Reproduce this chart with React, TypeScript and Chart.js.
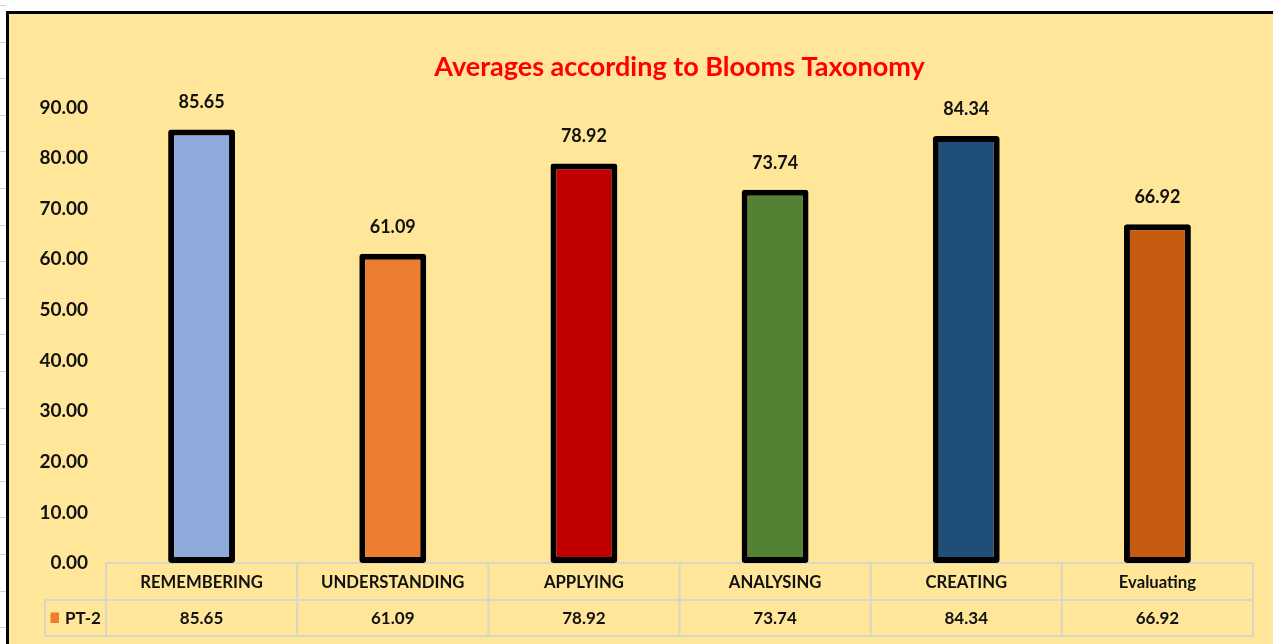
import React, { useEffect, useRef } from "react";
import { Chart, registerables } from "chart.js";

Chart.register(...registerables);

const categories = ["REMEMBERING", "UNDERSTANDING", "APPLYING", "ANALYSING", "CREATING", "Evaluating"];
const seriesName = "PT-2";
const values = [85.65, 61.09, 78.92, 73.74, 84.34, 66.92];
const barColors = ["#8FAADC", "#ED7D31", "#C00000", "#548235", "#1F4E79", "#C55A11"];
const legendColor = "#ED7D31";
const yMin = 0;
const yMax = 90;
const yStep = 10;
const titleText = "Averages according to Blooms Taxonomy";

const FONT = "Lato, 'Open Sans', sans-serif";

const tablePlugin = {
  id: "dataTable",
  beforeDatasetsDraw(chart: any) {
    const { ctx, chartArea } = chart;
    const left = chartArea.left;
    const right = chartArea.right;
    const top = chartArea.bottom;
    const row1 = 37;
    const row2 = 36;
    const legendLeft = 36;
    const n = categories.length;
    const w = (right - left) / n;
    ctx.save();
    ctx.strokeStyle = "#D9D6C8";
    ctx.lineWidth = 2;
    ctx.beginPath();
    ctx.moveTo(left, top);
    ctx.lineTo(right, top);
    ctx.moveTo(legendLeft, top + row1);
    ctx.lineTo(right, top + row1);
    ctx.moveTo(legendLeft, top + row1 + row2);
    ctx.lineTo(right, top + row1 + row2);
    for (let i = 0; i <= n; i++) {
      const x = left + i * w;
      ctx.moveTo(x, top);
      ctx.lineTo(x, top + row1 + row2);
    }
    ctx.moveTo(legendLeft, top + row1);
    ctx.lineTo(legendLeft, top + row1 + row2);
    ctx.stroke();

    ctx.fillStyle = "#111";
    ctx.textAlign = "center";
    ctx.textBaseline = "middle";
    ctx.font = `bold 16.7px ${FONT}`;
    categories.forEach((c, i) => {
      ctx.fillText(c, left + (i + 0.5) * w, top + row1 / 2 + 1);
    });
    ctx.font = `bold 17px ${FONT}`;
    values.forEach((v, i) => {
      ctx.fillText(v.toFixed(2), left + (i + 0.5) * w, top + row1 + row2 / 2 + 1);
    });
    ctx.fillStyle = legendColor;
    ctx.fillRect(legendLeft + 5.5, top + row1 + 12.5, 8.5, 10.5);
    ctx.fillStyle = "#111";
    ctx.textAlign = "left";
    ctx.fillText(seriesName, legendLeft + 20, top + row1 + row2 / 2 + 1);
    ctx.restore();
  },
  afterDatasetsDraw(chart: any) {
    const { ctx } = chart;
    const meta = chart.getDatasetMeta(0);
    ctx.save();
    ctx.fillStyle = "#111";
    ctx.textAlign = "center";
    ctx.textBaseline = "middle";
    ctx.font = `bold 18px ${FONT}`;
    meta.data.forEach((el: any, i: number) => {
      ctx.fillText(values[i].toFixed(2), el.x, el.y - 27);
    });
    ctx.restore();
  },
};

function BarChart() {
  const ref = useRef<HTMLCanvasElement | null>(null);
  useEffect(() => {
    if (!ref.current) return;
    const chart = new Chart(ref.current, {
      type: "bar",
      data: {
        labels: categories,
        datasets: [
          {
            label: seriesName,
            data: values,
            backgroundColor: barColors,
            borderColor: "#000000",
            borderWidth: 6,
            borderRadius: 3,
            borderSkipped: false,
            barPercentage: 0.35,
            categoryPercentage: 1,
          },
        ],
      },
      options: {
        responsive: false,
        animation: false,
        devicePixelRatio: 1,
        layout: { padding: { left: 0, right: 20, top: 0, bottom: 81 } },
        plugins: {
          legend: { display: false },
          tooltip: { enabled: false },
          title: {
            display: true,
            text: titleText,
            color: "#FF0000",
            fullSize: false,
            font: { family: FONT, size: 27, weight: "bold" },
            padding: { top: 37, bottom: 24 },
          },
        },
        scales: {
          x: { display: false },
          y: {
            min: yMin,
            max: yMax,
            grid: { display: false, drawTicks: false },
            border: { display: false },
            afterFit: (scale: any) => {
              scale.width = 97;
            },
            ticks: {
              stepSize: yStep,
              padding: 18,
              color: "#111",
              font: { family: FONT, size: 19, weight: "bold" },
              callback: (v: any) => Number(v).toFixed(2),
            },
          },
        },
      },
      plugins: [tablePlugin],
    });
    return () => chart.destroy();
  }, []);
  return <canvas ref={ref} width={1264} height={630} style={{ display: "block" }} />;
}

export default function App() {
  return (
    <div
      style={{
        position: "absolute",
        left: 0,
        top: 0,
        width: 1273,
        height: 644,
        overflow: "hidden",
        background: "#ffffff",
      }}
    >
      <div
        style={{
          position: "absolute",
          left: 0,
          top: 0,
          width: 6,
          height: 644,
          backgroundImage:
            "repeating-linear-gradient(to bottom, transparent 0px, transparent 5px, #d4d4d4 5px, #d4d4d4 6px, transparent 6px, transparent 36.6px)",
        }}
      />
      <div
        style={{
          position: "absolute",
          left: 6,
          top: 11,
          width: 1267,
          height: 633,
          boxSizing: "border-box",
          borderTop: "3px solid #000",
          borderLeft: "3px solid #000",
          background: "#FFE699",
        }}
      >
        <BarChart />
      </div>
    </div>
  );
}
